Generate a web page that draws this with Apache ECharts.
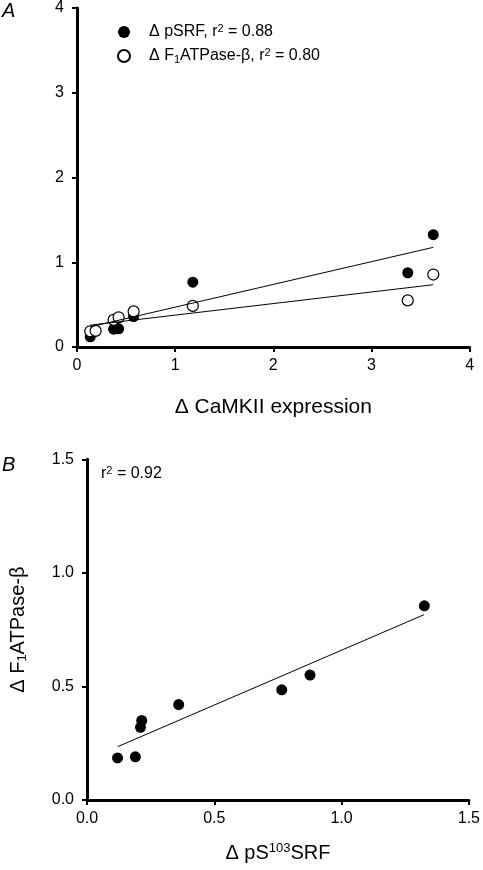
<!DOCTYPE html>
<html>
<head>
<meta charset="utf-8">
<script src="https://cdn.jsdelivr.net/npm/echarts@6/dist/echarts.min.js"></script>
<style>
html,body{margin:0;padding:0;background:#fff;}
#c{width:483px;height:870px;}
</style>
</head>
<body>
<div id="c"></div>
<script>
// Panel A / B data (same eight samples)
const camkii = [0.135, 0.19, 0.373, 0.424, 0.577, 1.18, 3.37, 3.63];
const pSRF   = [0.12, 0.19, 0.21, 0.215, 0.36, 0.765, 0.876, 1.325];
const f1atp  = [0.185, 0.19, 0.32, 0.35, 0.42, 0.485, 0.55, 0.855];

// Regression line endpoints
const fitA_x     = [0.135, 3.63];
const fitA_pSRF  = [0.238, 1.176];
const fitA_f1    = [0.258, 0.735];
const fitB_x     = [0.121, 1.324];
const fitB_y     = [0.235, 0.816];

const ticksA = [0, 1, 2, 3, 4];
const ticksB = [0.0, 0.5, 1.0, 1.5];

const FONT = 'Liberation Sans, Arial, sans-serif';
const zip = (a, b) => a.map((v, i) => [v, b[i]]);

const axisCommon = {
  axisLine: { show: true, onZero: false, lineStyle: { color: '#000', width: 3 } },
  axisTick: { show: true, inside: false, length: 5, lineStyle: { color: '#000', width: 2 } },
  splitLine: { show: false },
  axisLabel: { color: '#000', fontSize: 16, fontFamily: FONT, margin: 11 }
};

const chart = echarts.init(document.getElementById('c'), null, { renderer: 'canvas' });
chart.setOption({
  backgroundColor: '#ffffff',
  animation: false,
  textStyle: { fontFamily: FONT },
  grid: [
    { left: 77, top: 6, width: 392.6, height: 341 },
    { left: 80, top: 459.3, width: 392.7, height: 340.7 }
  ],
  xAxis: [
    Object.assign({}, axisCommon, {
      gridIndex: 0, type: 'value', min: ticksA[0], max: ticksA[ticksA.length - 1], interval: 1,
      name: 'Δ CaMKII expression', nameLocation: 'middle', nameGap: 50,
      nameTextStyle: { color: '#000', fontSize: 21, fontFamily: FONT }
    }),
    Object.assign({}, axisCommon, {
      gridIndex: 1, type: 'value', min: ticksB[0], max: ticksB[ticksB.length - 1], interval: 0.5,
      axisLabel: Object.assign({}, axisCommon.axisLabel, { formatter: v => v.toFixed(1) }),
      name: '{n|Δ pS}{sup|103}{n|SRF}', nameLocation: 'middle', nameGap: 42,
      nameTextStyle: {
        color: '#000', fontSize: 20, fontFamily: FONT,
        rich: {
          n: { fontSize: 20, fontFamily: FONT, color: '#000' },
          sup: { fontSize: 13, fontFamily: FONT, color: '#000', verticalAlign: 'top', padding: [0, 0, 9, 0] }
        }
      }
    })
  ],
  yAxis: [
    Object.assign({}, axisCommon, {
      gridIndex: 0, type: 'value', min: ticksA[0], max: ticksA[ticksA.length - 1], interval: 1,
      axisLabel: Object.assign({}, axisCommon.axisLabel, { margin: 13 })
    }),
    Object.assign({}, axisCommon, {
      gridIndex: 1, type: 'value', min: ticksB[0], max: ticksB[ticksB.length - 1], interval: 0.5,
      axisLabel: Object.assign({}, axisCommon.axisLabel, { margin: 13, formatter: v => v.toFixed(1) }),
      name: '{n|Δ F}{sub|1}{n|ATPase-β}', nameLocation: 'middle', nameGap: 58,
      nameTextStyle: {
        color: '#000', fontSize: 20, fontFamily: FONT,
        rich: {
          n: { fontSize: 20, fontFamily: FONT, color: '#000' },
          sub: { fontSize: 13, fontFamily: FONT, color: '#000', padding: [9, 0, 0, 0] }
        }
      }
    })
  ],
  legend: {
    orient: 'vertical', left: 117, top: 23, padding: 0,
    itemWidth: 12, itemHeight: 12, itemGap: 7,
    data: [
      { name: 'pSRF', icon: 'circle' },
      { name: 'F1', icon: 'circle' }
    ],
    formatter: function (name) {
      if (name === 'pSRF') return '{sp|}{n|Δ pSRF, r}{sup|2}{n| = 0.88}';
      return '{sp|}{n|Δ F}{sub|1}{n|ATPase-β, r}{sup|2}{n| = 0.80}';
    },
    textStyle: {
      color: '#000', fontSize: 16, fontFamily: FONT,
      rich: {
        sp: { width: 14 },
        n: { fontSize: 16, fontFamily: FONT, color: '#000' },
        sup: { fontSize: 11, fontFamily: FONT, color: '#000', verticalAlign: 'top', padding: [0, 0, 7, 0] },
        sub: { fontSize: 11, fontFamily: FONT, color: '#000', padding: [7, 0, 0, 0] }
      }
    }
  },
  series: [
    {
      name: 'fitA1', type: 'line', xAxisIndex: 0, yAxisIndex: 0, data: zip(fitA_x, fitA_pSRF),
      showSymbol: false, symbol: 'none', lineStyle: { color: '#000', width: 1 }, silent: true
    },
    {
      name: 'fitA2', type: 'line', xAxisIndex: 0, yAxisIndex: 0, data: zip(fitA_x, fitA_f1),
      showSymbol: false, symbol: 'none', lineStyle: { color: '#000', width: 1 }, silent: true
    },
    {
      name: 'pSRF', type: 'scatter', xAxisIndex: 0, yAxisIndex: 0, data: zip(camkii, pSRF),
      symbol: 'circle', symbolSize: 11, itemStyle: { color: '#000', opacity: 1 }
    },
    {
      name: 'F1', type: 'scatter', xAxisIndex: 0, yAxisIndex: 0, data: zip(camkii, f1atp),
      symbol: 'circle', symbolSize: 11, itemStyle: { color: '#fff', borderColor: '#000', borderWidth: 1.2, opacity: 1 }
    },
    {
      name: 'fitB', type: 'line', xAxisIndex: 1, yAxisIndex: 1, data: zip(fitB_x, fitB_y),
      showSymbol: false, symbol: 'none', lineStyle: { color: '#000', width: 1 }, silent: true
    },
    {
      name: 'B', type: 'scatter', xAxisIndex: 1, yAxisIndex: 1, data: zip(pSRF, f1atp),
      symbol: 'circle', symbolSize: 11, itemStyle: { color: '#000', opacity: 1 }
    }
  ],
  graphic: [
    { type: 'text', left: 2, top: 1, style: { text: 'A', font: 'italic 20px ' + FONT, fill: '#000' } },
    { type: 'text', left: 2, top: 455, style: { text: 'B', font: 'italic 20px ' + FONT, fill: '#000' } },
    {
      type: 'text', left: 101, top: 465,
      style: {
        text: '{n|r}{sup|2}{n| = 0.92}', fill: '#000',
        rich: {
          n: { fontSize: 16, fontFamily: FONT, fill: '#000' },
          sup: { fontSize: 11, fontFamily: FONT, fill: '#000', verticalAlign: 'top', padding: [0, 0, 7, 0] }
        }
      }
    }
  ]
});
</script>
</body>
</html>
